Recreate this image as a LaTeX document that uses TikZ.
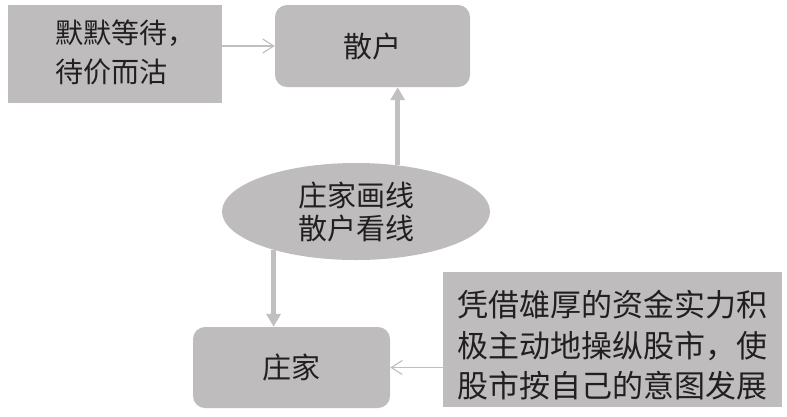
\documentclass[tikz,border=0pt]{standalone}
\usepackage{fontspec}
\newfontfamily\cjk{Noto Sans CJK SC}
\usetikzlibrary{shapes.geometric,arrows.meta}

\definecolor{boxgray}{RGB}{190,188,189}
\definecolor{linegray}{RGB}{192,192,192}
\definecolor{inkgray}{RGB}{35,31,32}

\tikzset{
    box/.style={fill=boxgray, inner sep=0pt, text=inkgray},
    roundbox/.style={box, rounded corners=12pt},
    boxtext/.style={text=inkgray, align=left},
    thinarrow/.style={draw=linegray, line width=1.2pt, -{Straight Barb[length=11pt,width=14pt]}},
    thickarrow/.style={draw=linegray, line width=5pt, -{Triangle[length=13pt,width=14pt]}}
}

\begin{document}
\begin{tikzpicture}[x=1pt, y=-1pt]
    \useasboundingbox (0,0) rectangle (787,416);

    \node[box, minimum width=214pt, minimum height=98pt,
        label={[boxtext, font=\cjk\fontsize{28}{39}\selectfont, xshift=10pt, yshift=2pt]center:默默等待，\\待价而沽}] (wait) at (115,54) {};
    \node[roundbox, minimum width=195pt, minimum height=82pt, font=\cjk\fontsize{29}{35}\selectfont] (retail) at (372.5,46) {散户};
    \node[ellipse, fill=boxgray, text=inkgray, inner sep=0pt, minimum width=268pt, minimum height=97pt,
        align=center, font=\cjk\fontsize{29}{33}\selectfont] (plot) at (356,211.5) {庄家画线\\散户看线};
    \node[roundbox, minimum width=197pt, minimum height=81pt, font=\cjk\fontsize{29}{35}\selectfont] (dealer) at (291.5,367.5) {庄家};
    \node[box, minimum width=339pt, minimum height=135pt,
        label={[boxtext, font=\cjk\fontsize{31}{40.5}\selectfont, yshift=-6pt]center:凭借雄厚的资金实力积\\极主动地操纵股市，使\\股市按自己的意图发展}] (power) at (612.5,339.5) {};

    \draw[thinarrow] (wait.east |- retail.west) -- (retail.west);
    \draw[thickarrow] (plot.48) -- (plot.48 |- retail.south);
    \draw[thickarrow] (plot.205) -- (plot.205 |- dealer.north);
    \draw[thinarrow] (power.west |- dealer.east) -- (dealer.east);
\end{tikzpicture}
\end{document}
